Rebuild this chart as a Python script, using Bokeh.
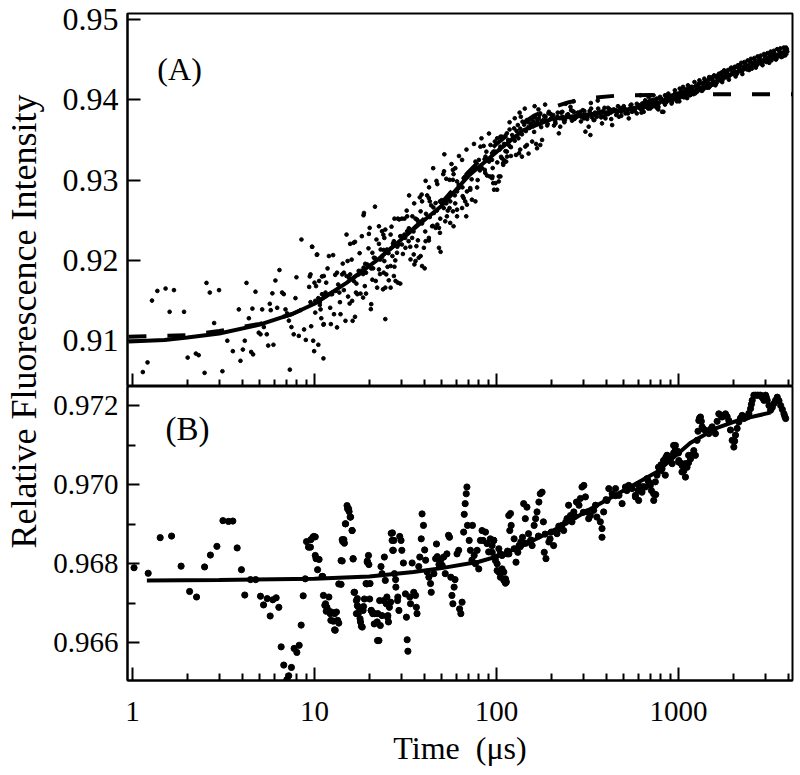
import math
from bokeh.plotting import figure
from bokeh.layouts import row, column
from bokeh.models import FixedTicker, Range1d, Label, CustomJSTickFormatter, PrintfTickFormatter
from bokeh.embed import file_html
from bokeh.resources import INLINE

FONT = "Liberation Serif"

# ---------------- axes / ticks ----------------
X_RANGE = (0.939, 4230)
X_MAJOR = [1, 10, 100, 1000]
X_MINOR = [2, 3, 4, 5, 6, 7, 8, 9, 20, 30, 40, 50, 60, 70, 80, 90,
           200, 300, 400, 500, 600, 700, 800, 900, 2000, 3000, 4000]
A_Y_RANGE = (0.9043, 0.95074)
A_Y_TICKS = [0.91, 0.92, 0.93, 0.94, 0.95]
B_Y_RANGE = (0.96505, 0.97248)
B_Y_TICKS = [0.966, 0.968, 0.970, 0.972]
B_Y_MINOR = [0.965, 0.967, 0.969, 0.971]

# ---------------- panel A data (time us, intensity) ----------------
A_EARLY = [(1.14, 0.9061), (1.21, 0.9073), (1.28, 0.9150), (1.37, 0.9162), (1.52, 0.9165), (1.60, 0.9136),
           (1.69, 0.9163), (1.92, 0.9136), (2.01, 0.9079), (2.23, 0.9084), (2.31, 0.9082), (2.49, 0.9060),
           (2.55, 0.9172), (2.66, 0.9160), (2.81, 0.9122), (2.99, 0.9163), (3.12, 0.9062), (3.32, 0.9100),
           (3.56, 0.9087), (3.84, 0.9139), (3.92, 0.9075), (4.04, 0.9089), (4.14, 0.9100), (4.23, 0.9172),
           (4.36, 0.9128), (4.49, 0.9086), (4.56, 0.9140), (4.60, 0.9083), (4.74, 0.9161), (4.94, 0.9110),
           (5.05, 0.9108), (5.16, 0.9139), (5.27, 0.9117), (5.47, 0.9108), (5.57, 0.9094), (5.68, 0.9146),
           (5.75, 0.9138), (5.87, 0.9159), (5.95, 0.9095), (6.10, 0.9175), (6.24, 0.9141), (6.42, 0.9188),
           (6.64, 0.9160), (6.78, 0.9158), (6.93, 0.9139), (7.08, 0.9134), (7.23, 0.9125), (7.32, 0.9064),
           (7.47, 0.9117), (7.69, 0.9108), (7.86, 0.9153), (7.96, 0.9179), (8.20, 0.9106), (8.38, 0.9138),
           (8.48, 0.9226), (8.77, 0.9114), (8.96, 0.9101), (9.35, 0.9167), (9.42, 0.9180), (9.51, 0.9148),
           (9.59, 0.9118), (9.71, 0.9217), (9.84, 0.9100), (9.96, 0.9087), (10.1, 0.9135), (10.3, 0.9207),
           (10.5, 0.9095), (10.7, 0.9148), (10.8, 0.9139), (11.0, 0.9180), (11.2, 0.9120), (11.2, 0.9078),
           (11.3, 0.9156)]

A_MID = [(9.7, 0.92169), (10.35, 0.92074), (12.0, 0.92054), (12.66, 0.92066), (9.51, 0.91826), (10.0, 0.91723),
         (10.6, 0.91744), (11.25, 0.91806), (11.6, 0.91723), (11.0, 0.91579), (11.5, 0.9157), (10.1, 0.91496),
         (10.7, 0.91446), (12.35, 0.91579), (13.1, 0.9162), (13.7, 0.916), (13.3, 0.91847), (14.2, 0.91826),
         (14.5, 0.91847), (15.0, 0.91806), (15.7, 0.91826), (15.2, 0.91992), (15.0, 0.92322), (15.7, 0.92206),
         (16.4, 0.92219), (16.7, 0.92231), (18.2, 0.92301), (18.7, 0.9259), (18.6, 0.92562), (20.1, 0.92405),
         (19.9, 0.9233), (21.5, 0.92669), (20.8, 0.92095), (21.2, 0.92033), (19.0, 0.91958), (19.2, 0.91847),
         (17.5, 0.91826), (17.0, 0.91711), (17.2, 0.91579), (17.9, 0.91587), (18.5, 0.91537), (16.1, 0.91496),
         (15.6, 0.91463), (16.2, 0.91248), (16.7, 0.91298), (14.8, 0.91248), (13.9, 0.9133), (12.8, 0.9133),
         (12.3, 0.91207), (11.25, 0.91207), (13.3, 0.91166), (24.5, 0.91269), (20.5, 0.91455), (20.4, 0.91393),
         (19.2, 0.91587), (22.1, 0.91661), (23.8, 0.9164), (24.5, 0.91661), (26.2, 0.91661), (25.6, 0.91752),
         (24.8, 0.91826), (27.3, 0.91806), (27.9, 0.91744), (28.7, 0.91723), (29.6, 0.91711), (27.5, 0.91921),
         (26.2, 0.9193), (24.2, 0.91992), (23.5, 0.92041), (22.6, 0.92425), (23.5, 0.92363), (24.5, 0.92384),
         (26.2, 0.92322), (24.2, 0.9228), (22.6, 0.92206), (23.1, 0.92136), (25.0, 0.92136), (27.3, 0.92239),
         (29.0, 0.92198), (29.6, 0.92301), (31.2, 0.92322), (32.3, 0.92363), (27.5, 0.9252), (28.7, 0.9252),
         (30.2, 0.9252), (31.2, 0.9252), (32.3, 0.92549), (33.1, 0.92809), (34.5, 0.92549), (35.9, 0.9252),
         (36.6, 0.92508), (38.3, 0.92611), (37.9, 0.92785), (39.0, 0.92735), (40.8, 0.92991), (41.6, 0.92809),
         (42.5, 0.92776), (43.0, 0.92735), (43.8, 0.92685), (44.9, 0.93148), (45.3, 0.9259), (46.3, 0.92405),
         (47.3, 0.92446), (48.3, 0.92405), (48.9, 0.92343), (48.3, 0.92157), (49.3, 0.92107), (42.5, 0.92248),
         (40.8, 0.92239), (39.9, 0.92157), (36.3, 0.92177), (35.1, 0.92074), (33.7, 0.92012), (35.9, 0.91992),
         (35.4, 0.9195), (37.4, 0.92033), (39.0, 0.9193), (40.3, 0.91901), (38.3, 0.92054), (47.3, 0.9295),
         (51.0, 0.93074), (51.7, 0.93321), (53.0, 0.93016), (55.2, 0.93003), (57.6, 0.93003), (58.1, 0.93074),
         (57.6, 0.93127), (59.4, 0.93148), (60.7, 0.92983), (62.0, 0.92901), (60.7, 0.92859), (64.7, 0.93251),
         (66.0, 0.93024), (67.3, 0.93045), (68.8, 0.92859), (71.8, 0.9288), (73.3, 0.92756), (76.6, 0.92735),
         (78.3, 0.92908), (76.6, 0.9323), (80.0, 0.93251), (81.6, 0.93416), (85.0, 0.93425), (88.0, 0.93354),
         (87.0, 0.93293), (83.3, 0.93148), (86.2, 0.93127), (88.7, 0.93057), (91.8, 0.93045), (94.6, 0.93024),
         (98.7, 0.92962), (100.8, 0.9288), (102.9, 0.92983), (105.1, 0.93045), (94.6, 0.93334), (98.7, 0.93354),
         (100.8, 0.9352), (105.1, 0.9354), (112.0, 0.93553), (114.4, 0.93293), (109.7, 0.93251), (108.8, 0.9321),
         (116.8, 0.93437), (55.7, 0.92735), (55.2, 0.92652), (57.6, 0.92611), (60.7, 0.92632), (52.3, 0.92487),
         (53.4, 0.92549), (55.7, 0.92467), (58.1, 0.92425), (60.7, 0.92549), (64.7, 0.92652), (66.0, 0.92776),
         (67.3, 0.92735), (68.8, 0.92694), (68.2, 0.92549), (51.3, 0.92652), (48.9, 0.92735), (46.3, 0.92714),
         (44.3, 0.92425), (42.5, 0.9228), (34.4, 0.9228), (32.9, 0.92239), (31.6, 0.92157), (30.2, 0.92198),
         (28.4, 0.92095), (26.8, 0.92054), (24.0, 0.91847), (21.7, 0.91744), (21.0, 0.91901), (22.6, 0.91888),
         (18.6, 0.91909), (17.9, 0.91868)]

A_MID_NEAR_FIT = [(10.5, 0.9153), (11.5, 0.9160), (12.5, 0.9158), (13.5, 0.9170), (14.5, 0.9163), (15.5, 0.9178),
                  (16.5, 0.9174), (17.5, 0.9187), (18.5, 0.9183), (19.5, 0.9195), (20.5, 0.9190), (21.5, 0.9203),
                  (23, 0.9201), (24, 0.9213), (25.5, 0.9209), (27, 0.9221), (28.5, 0.9217), (30, 0.9230),
                  (31.5, 0.9228), (33, 0.9240), (35, 0.9236), (37, 0.9249), (39, 0.9246), (41, 0.9258),
                  (43, 0.9254), (45, 0.9266), (47, 0.9262), (50, 0.9275), (53, 0.9271), (56, 0.9284),
                  (59, 0.9281), (62, 0.9294), (65, 0.9291), (69, 0.9304), (73, 0.9301), (77, 0.9315),
                  (81, 0.9312), (86, 0.9326), (91, 0.9323), (96, 0.9335)]

A_MID_CLOUD = [(10.2, 0.9168), (10.9, 0.9128), (11.8, 0.9190), (12.2, 0.9141), (13.0, 0.9182), (13.8, 0.9148),
               (14.3, 0.9196), (15.3, 0.9155), (16.0, 0.9201), (16.9, 0.9160), (17.7, 0.9209), (18.9, 0.9168),
               (19.8, 0.9215), (20.8, 0.9176), (21.9, 0.9226), (22.9, 0.9183), (23.9, 0.9232), (25.2, 0.9192),
               (26.5, 0.9242), (27.8, 0.9200), (29.2, 0.9251), (30.6, 0.9208), (32.1, 0.9262), (33.6, 0.9217),
               (35.3, 0.9271), (37.0, 0.9225), (38.8, 0.9282), (40.6, 0.9236), (42.6, 0.9291), (44.7, 0.9243),
               (46.8, 0.9299), (49.1, 0.9252), (51.5, 0.9311), (54.0, 0.9262), (56.6, 0.9320), (59.3, 0.9271),
               (62.2, 0.9330), (65.2, 0.9280), (68.4, 0.9338), (71.7, 0.9290), (75.2, 0.9345), (78.8, 0.9300),
               (82.7, 0.9352), (86.7, 0.9309), (90.9, 0.9358), (95.3, 0.9315)]

A_LATE = [(97, 0.9288), (96, 0.92962), (103, 0.93045), (95, 0.93045), (109, 0.9319), (113, 0.9323),
          (107, 0.93272), (114, 0.93355), (94.5, 0.93252), (96.5, 0.93355), (92.7, 0.93437), (98, 0.9348),
          (105, 0.93417), (119, 0.93417), (128, 0.93313), (133, 0.93334), (138, 0.93292), (144, 0.93417),
          (147, 0.93437), (157, 0.9348), (174, 0.93437), (167, 0.93396), (107, 0.9354), (114, 0.93582),
          (125, 0.93644), (131, 0.93685), (139, 0.93727), (136, 0.93789), (147, 0.93747), (154, 0.93706),
          (160, 0.93727), (171, 0.93768), (181, 0.93747), (174, 0.9383), (186, 0.93789), (194, 0.9385),
          (202, 0.93789), (211, 0.93706), (220, 0.93582), (224, 0.93665), (234, 0.93747), (244, 0.93809),
          (255, 0.93912), (266, 0.9385), (277, 0.93789), (289, 0.9385), (302, 0.93768), (308, 0.93603),
          (321, 0.93665), (328, 0.93561), (342, 0.93747), (356, 0.93789), (372, 0.9385), (380, 0.93706),
          (397, 0.93768), (414, 0.9383), (432, 0.93685), (451, 0.93871), (471, 0.93789), (490, 0.93892),
          (511, 0.9383), (533, 0.93768), (556, 0.9385), (580, 0.93892), (604, 0.93933), (630, 0.93871),
          (657, 0.93933), (686, 0.93974), (715, 0.93912), (746, 0.93995), (778, 0.93954), (812, 0.9385),
          (846, 0.93995), (883, 0.94036), (921, 0.93974), (960, 0.94057), (1002, 0.94016), (1045, 0.94078),
          (1089, 0.94098), (1136, 0.9414), (118, 0.9363), (123, 0.9352), (150, 0.9366), (165, 0.9370),
          (190, 0.9368), (230, 0.9379), (260, 0.9374), (285, 0.9380), (315, 0.9376), (350, 0.9381),
          (390, 0.9379), (420, 0.9388), (460, 0.9384), (540, 0.9388), (590, 0.9383), (640, 0.9390),
          (700, 0.9394), (760, 0.9390), (830, 0.9397), (900, 0.9400), (980, 0.9398)]

A_LATE_BAND = [(101, 0.9322), (104, 0.9338), (106, 0.9329), (110, 0.9345), (112, 0.9336), (116, 0.9350),
               (120, 0.9341), (122, 0.9356), (126, 0.9349), (129, 0.9361), (132, 0.9352), (135, 0.9364),
               (138, 0.9357), (142, 0.9369), (145, 0.9361), (149, 0.9372), (152, 0.9365), (156, 0.9376),
               (159, 0.9367), (163, 0.9378), (168, 0.9371), (172, 0.9381), (177, 0.9373), (183, 0.9380),
               (188, 0.9374), (193, 0.9383), (198, 0.9376), (205, 0.9381), (210, 0.9373), (217, 0.9384),
               (223, 0.9377), (230, 0.9385), (238, 0.9375), (247, 0.9382), (253, 0.9378), (262, 0.9386),
               (270, 0.9377), (280, 0.9384), (292, 0.9379), (298, 0.9387), (310, 0.9381), (325, 0.9386),
               (335, 0.9378), (348, 0.9384), (362, 0.9389), (375, 0.9380), (385, 0.9386), (402, 0.9382),
               (410, 0.9390), (425, 0.9384), (440, 0.9388), (455, 0.9381), (475, 0.9390), (485, 0.9385),
               (500, 0.9392), (520, 0.9386), (545, 0.9393), (565, 0.9388), (590, 0.9395), (615, 0.9389),
               (645, 0.9396), (665, 0.9391), (690, 0.9398), (720, 0.9393), (735, 0.9400), (770, 0.9396),
               (790, 0.9402), (820, 0.9398), (855, 0.9403), (870, 0.9399), (910, 0.9405), (945, 0.9401),
               (970, 0.9407), (990, 0.9402), (118, 0.9372), (126, 0.9377), (134, 0.9384), (143, 0.9389),
               (162, 0.9392), (170, 0.9388), (185, 0.9394), (240, 0.9395), (265, 0.9398), (330, 0.9396),
               (360, 0.9399), (120, 0.9330), (135, 0.9338), (150, 0.9333), (165, 0.9345), (178, 0.9350)]

A_LATE_BAND2 = [(155, 0.9369), (161, 0.9360), (168, 0.9375), (176, 0.9366), (184, 0.9379), (191, 0.9370),
                (199, 0.9382), (207, 0.9368), (216, 0.9379), (226, 0.9384), (236, 0.9372), (246, 0.9380),
                (257, 0.9387), (268, 0.9376), (279, 0.9383), (291, 0.9373), (304, 0.9386), (317, 0.9379),
                (331, 0.9389), (345, 0.9375), (360, 0.9384), (376, 0.9378), (392, 0.9390), (409, 0.9382),
                (427, 0.9376), (446, 0.9387), (465, 0.9392), (485, 0.9380), (506, 0.9389), (528, 0.9383),
                (551, 0.9394), (575, 0.9386), (600, 0.9391), (626, 0.9384), (653, 0.9397), (682, 0.9389),
                (711, 0.9400), (742, 0.9392), (774, 0.9388), (808, 0.9401), (843, 0.9394), (880, 0.9405),
                (918, 0.9397), (958, 0.9408), (1000, 0.9399), (1043, 0.9411), (1089, 0.9404), (1136, 0.9409)]

A_END = [(618, 0.94056), (631, 0.93953), (644, 0.9385), (657, 0.93994), (671, 0.93912), (685, 0.94036),
         (700, 0.93891), (714, 0.93974), (729, 0.94056), (744, 0.93953), (760, 0.94015), (776, 0.93912),
         (792, 0.94036), (809, 0.93994), (826, 0.9385), (843, 0.94056), (861, 0.93974), (879, 0.94077),
         (897, 0.94015), (916, 0.93953), (935, 0.94056), (955, 0.94118), (975, 0.94015), (995, 0.94077),
         (1016, 0.94139), (1037, 0.94036), (1059, 0.9416), (1081, 0.94077), (1104, 0.94118), (1127, 0.9418),
         (1150, 0.94056), (1174, 0.9416), (1199, 0.94118), (1224, 0.94221), (1250, 0.94118), (1276, 0.9418),
         (1303, 0.94242), (1330, 0.94139), (1358, 0.94201), (1386, 0.94263), (1415, 0.9416), (1445, 0.94221),
         (1475, 0.94283), (1506, 0.9418), (1538, 0.94242), (1570, 0.94304), (1603, 0.94221), (1636, 0.94271),
         (1671, 0.94325), (1706, 0.94242), (1741, 0.94304), (1778, 0.94366), (1815, 0.94283), (1853, 0.94345),
         (1892, 0.94304), (1931, 0.94387), (1972, 0.94325), (2013, 0.94366), (2055, 0.94407), (2098, 0.94325),
         (2142, 0.94387), (2187, 0.94428), (2233, 0.94354), (2280, 0.94407), (2327, 0.94449), (2376, 0.94378),
         (2426, 0.94428), (2476, 0.94469), (2528, 0.94387), (2581, 0.94449), (2635, 0.9449), (2690, 0.94428),
         (2747, 0.94469), (2804, 0.94511), (2863, 0.94449), (2923, 0.9449), (2984, 0.94531), (3046, 0.94469),
         (3110, 0.94511), (3175, 0.94552), (3242, 0.9449), (3310, 0.94531), (3379, 0.94573), (3450, 0.94511),
         (3522, 0.94552), (3596, 0.94593), (3671, 0.94531), (3748, 0.94573), (3826, 0.94614), (3860, 0.94552)]

A_END_BAND = [(1010, 0.9398), (1030, 0.9410), (1070, 0.9403), (1095, 0.9413), (1115, 0.9402), (1140, 0.9412),
              (1165, 0.9406), (1190, 0.9416), (1210, 0.9407), (1240, 0.9417), (1265, 0.9410), (1290, 0.9420),
              (1315, 0.9412), (1345, 0.9421), (1370, 0.9413), (1400, 0.9424), (1430, 0.9415), (1460, 0.9425),
              (1490, 0.9417), (1520, 0.9428), (1555, 0.9419), (1585, 0.9429), (1620, 0.9421), (1655, 0.9431),
              (1690, 0.9424), (1725, 0.9434), (1760, 0.9426), (1795, 0.9436), (1835, 0.9428), (1870, 0.9437),
              (1910, 0.9430), (1950, 0.9440), (1990, 0.9432), (2035, 0.9441), (2075, 0.9434), (2120, 0.9443),
              (2165, 0.9436), (2210, 0.9446), (2255, 0.9438), (2300, 0.9447), (2350, 0.9440), (2400, 0.9449),
              (2450, 0.9441), (2500, 0.9451), (2555, 0.9443), (2610, 0.9452), (2660, 0.9445), (2720, 0.9454),
              (2775, 0.9446), (2830, 0.9455), (2890, 0.9448), (2950, 0.9457), (3015, 0.9450), (3080, 0.9458),
              (3140, 0.9451), (3210, 0.9460), (3275, 0.9453), (3345, 0.9461), (3415, 0.9455), (3485, 0.9463),
              (3560, 0.9456), (3630, 0.9464), (3710, 0.9458), (3790, 0.9465), (3900, 0.9460), (3940, 0.9463)]

A_END_BAND2 = [(1185, 0.9414), (1237, 0.9408), (1290, 0.9419), (1346, 0.9411), (1405, 0.9422), (1466, 0.9415),
               (1530, 0.9426), (1596, 0.9418), (1665, 0.9429), (1738, 0.9422), (1813, 0.9433), (1892, 0.9425),
               (1974, 0.9436), (2060, 0.9429), (2150, 0.9440), (2243, 0.9432), (2340, 0.9443), (2442, 0.9437),
               (2548, 0.9446), (2659, 0.9440), (2774, 0.9450), (2895, 0.9443), (3020, 0.9453), (3152, 0.9446),
               (3289, 0.9457), (3431, 0.9450), (3580, 0.9461), (3736, 0.9454), (3898, 0.9465), (3960, 0.9460)]

# fits in panel A
A_FIT_T = [0.95, 1.5, 2, 3, 5, 7.5, 10, 15, 22, 30, 40, 50, 70, 100, 140, 200, 300, 500, 760, 1100, 1500, 2000, 3000, 4000]
A_FIT_V = [0.9099, 0.9101, 0.9104, 0.9109, 0.9120, 0.9133, 0.9146, 0.9172, 0.9200, 0.9226, 0.9250, 0.9268,
           0.9305, 0.9335, 0.9362, 0.9376, 0.9381, 0.9387, 0.9396, 0.9407, 0.9420, 0.9433, 0.9448, 0.9458]
A_FIT2_T = [0.95, 2, 3, 5, 7.5, 10, 15, 22, 30, 50, 70, 100, 130, 160, 200, 250, 320, 450, 700, 1200, 4230]
A_FIT2_V = [0.9105, 0.9107, 0.9112, 0.9121, 0.9133, 0.9146, 0.9172, 0.9200, 0.9226, 0.9272, 0.9310, 0.9345,
            0.9366, 0.9380, 0.9390, 0.9397, 0.9402, 0.9405, 0.9406, 0.9407, 0.9407]

# ---------------- panel B data ----------------
B_EARLY = [(1.02, 0.96790), (1.22, 0.96776), (1.42, 0.96866), (1.64, 0.96870), (1.85, 0.96794), (2.06, 0.96730),
           (2.25, 0.96716), (2.49, 0.96792), (2.68, 0.96822), (2.91, 0.96844), (3.14, 0.96909), (3.37, 0.96907),
           (3.56, 0.96908), (3.76, 0.96840), (3.97, 0.96785), (4.14, 0.96721), (4.45, 0.96760), (4.75, 0.96760),
           (5.05, 0.96718), (5.25, 0.96696), (5.50, 0.96712), (5.71, 0.96668), (5.90, 0.96709), (6.16, 0.96714),
           (6.37, 0.96690), (6.56, 0.96590), (6.78, 0.96544), (7.05, 0.96507), (7.22, 0.96517), (7.47, 0.96538),
           (7.73, 0.96586), (8.00, 0.96576), (8.24, 0.96594), (8.45, 0.96645), (8.67, 0.96719), (9.04, 0.96856),
           (9.27, 0.96842), (9.55, 0.96861), (9.91, 0.96869), (8.9, 0.96762), (10.2, 0.96813), (10.6, 0.96811)]

B_MID1 = [(10.1, 0.96821), (10.4, 0.96785), (11.0, 0.96768), (11.2, 0.96720), (11.5, 0.96699), (11.7, 0.96690),
          (11.9, 0.96682), (12.2, 0.96674), (12.3, 0.96657), (12.7, 0.96655), (12.9, 0.96633), (13.2, 0.96678),
          (13.6, 0.96749), (14.0, 0.96808), (14.2, 0.96861), (14.3, 0.96856), (14.8, 0.96901), (15.2, 0.96939),
          (15.5, 0.96932), (15.8, 0.96918), (16.1, 0.96884), (16.3, 0.96812), (16.6, 0.96728), (17.0, 0.96707),
          (17.2, 0.96694), (17.4, 0.96674), (17.8, 0.96661), (18.1, 0.96642), (18.5, 0.96682), (18.8, 0.96711),
          (19.4, 0.96749), (19.5, 0.96804), (19.8, 0.96821), (20.1, 0.96711), (20.5, 0.96682), (20.9, 0.96674),
          (21.3, 0.96648), (22.2, 0.96606), (22.3, 0.96674), (22.8, 0.96707), (23.2, 0.96793), (23.5, 0.96775),
          (24.2, 0.96817), (24.5, 0.96758), (25.0, 0.96716), (25.3, 0.96669), (25.8, 0.96690), (26.4, 0.96877),
          (26.7, 0.96859), (26.9, 0.96834), (27.5, 0.96775), (28.0, 0.96741), (28.6, 0.96707)]

B_MID2 = [(9.8, 0.96867), (10.1, 0.96868), (9.5, 0.96842), (11.1, 0.96768), (11.4, 0.96695), (11.6, 0.96680),
          (12.0, 0.96716), (12.4, 0.96678), (12.9, 0.96674), (13.0, 0.96632), (13.4, 0.96657), (13.6, 0.96650),
          (14.0, 0.96748), (14.2, 0.96807), (14.5, 0.96861), (14.6, 0.96852), (14.8, 0.96901), (15.1, 0.96947),
          (15.4, 0.96939), (15.7, 0.96918), (16.1, 0.96884), (16.3, 0.96813), (16.5, 0.96728), (17.2, 0.96712),
          (17.5, 0.96690), (17.0, 0.96674), (17.9, 0.96653), (18.3, 0.96640), (18.6, 0.96692), (19.2, 0.96750),
          (19.5, 0.96807), (19.9, 0.96798), (20.2, 0.96750), (20.5, 0.96682), (21.0, 0.96675), (21.4, 0.96674),
          (22.1, 0.96653), (22.6, 0.96606), (23.0, 0.96644), (23.5, 0.96669), (24.0, 0.96707), (24.8, 0.96699),
          (25.2, 0.96665), (25.5, 0.96653), (26.2, 0.96703), (26.8, 0.96878), (27.3, 0.96859), (27.1, 0.96834),
          (27.9, 0.96760), (28.7, 0.96716), (29.1, 0.96682), (29.4, 0.96869), (29.9, 0.96859), (30.2, 0.96834),
          (30.8, 0.96802), (31.6, 0.96724), (32.0, 0.96665), (32.3, 0.96608), (32.6, 0.96579), (33.4, 0.96716),
          (33.7, 0.96699), (34.4, 0.96802), (35.1, 0.96728), (35.9, 0.96720), (36.3, 0.96690), (36.6, 0.96674),
          (37.4, 0.96793), (37.9, 0.96817), (38.6, 0.96863), (39.0, 0.96926), (39.7, 0.96897), (40.3, 0.96835),
          (40.8, 0.96809), (41.6, 0.96779), (42.5, 0.96766), (43.4, 0.96750), (43.8, 0.96728), (45.3, 0.96775),
          (46.3, 0.96813), (46.8, 0.96850), (47.3, 0.96818), (48.3, 0.96798), (49.3, 0.96809), (50.3, 0.96796),
          (51.3, 0.96817), (52.3, 0.96775), (53.4, 0.96825), (54.5, 0.96872), (55.2, 0.96867), (56.1, 0.96766),
          (56.9, 0.96720), (57.6, 0.96699), (58.5, 0.96741), (59.2, 0.96760), (60.7, 0.96825), (62.0, 0.96834),
          (62.7, 0.96686), (63.7, 0.96674), (64.7, 0.96703), (66.0, 0.96880), (66.5, 0.96925), (67.3, 0.96952),
          (68.2, 0.96977), (68.8, 0.96994), (69.3, 0.96897), (70.8, 0.96859), (71.9, 0.96834), (73.3, 0.96809),
          (73.8, 0.96897), (75.4, 0.96821), (76.6, 0.96800), (78.3, 0.96834), (79.9, 0.96787), (81.6, 0.96859),
          (83.3, 0.96884), (84.4, 0.96859), (87.0, 0.96880), (88.7, 0.96851), (90.6, 0.96830), (92.5, 0.96863),
          (94.6, 0.96846), (96.6, 0.96859), (98.7, 0.96817), (100.8, 0.96800), (102.9, 0.96779), (105.1, 0.96766),
          (107.3, 0.96787), (109.7, 0.96758), (112.0, 0.96751), (114.4, 0.96825), (116.8, 0.96922), (118.3, 0.96884)]

B_LATE = [(96.6, 0.96859), (94.7, 0.96829), (98.7, 0.96808), (103, 0.96838), (100.8, 0.96783), (107.3, 0.96821),
          (109.7, 0.96779), (112, 0.96762), (113.3, 0.96754), (117, 0.96825), (119.4, 0.96927), (120.4, 0.96897),
          (125, 0.96863), (128, 0.96804), (131, 0.96829), (133, 0.96846), (136, 0.96855), (139, 0.96867),
          (141, 0.96952), (144, 0.96914), (147, 0.96943), (150, 0.96876), (154, 0.96859), (157, 0.96846),
          (161, 0.96897), (164, 0.96914), (167, 0.96931), (171, 0.96956), (174, 0.96977), (178, 0.96981),
          (181, 0.96906), (183, 0.96829), (187, 0.96813), (194, 0.96855), (197, 0.96863), (206, 0.96846),
          (215, 0.96876), (224, 0.96889), (229, 0.96897), (234, 0.96884), (244, 0.96914), (249, 0.96948),
          (255, 0.96922), (260, 0.96906), (266, 0.96931), (275, 0.96956), (284, 0.96948), (289, 0.96965),
          (295, 0.96994), (302, 0.96998), (308, 0.96969), (315, 0.96931), (321, 0.96914), (328, 0.96922),
          (342, 0.96935), (356, 0.96918), (372, 0.96906), (380, 0.96889), (380, 0.96867), (388, 0.96931),
          (405, 0.96960), (414, 0.96990), (432, 0.96977), (451, 0.96990), (471, 0.96973), (490, 0.96952),
          (511, 0.96994), (533, 0.96998), (556, 0.96990), (580, 0.96969), (604, 0.96960), (630, 0.96981),
          (657, 0.96994), (671, 0.97015), (700, 0.96998), (730, 0.96977), (746, 0.97007), (762, 0.97024),
          (778, 0.97044), (812, 0.97040), (829, 0.97061), (846, 0.97024), (864, 0.97074), (902, 0.97070),
          (940, 0.97099), (960, 0.97087), (1002, 0.97057), (1045, 0.97032), (1089, 0.97053), (1136, 0.97074),
          (105, 0.96825), (115, 0.96832), (125, 0.96838), (135, 0.96843), (145, 0.96852), (155, 0.96860),
          (170, 0.96870), (185, 0.96875), (200, 0.96880), (220, 0.96895), (240, 0.96905), (270, 0.96920),
          (300, 0.96930), (350, 0.96948), (400, 0.96962), (450, 0.96972), (520, 0.96985), (600, 0.97000),
          (680, 0.97010), (800, 0.97035), (900, 0.97060), (1000, 0.97080)]

B_END = [(580, 0.96973), (731, 0.96960), (779, 0.97044), (830, 0.97061), (866, 0.97074), (923, 0.97053),
         (962, 0.97099), (1004, 0.97061), (1047, 0.97048), (1092, 0.97019), (1114, 0.97044), (1164, 0.97065),
         (1213, 0.97086), (1239, 0.97074), (1265, 0.97112), (1293, 0.97162), (1320, 0.97171), (1348, 0.97146),
         (1406, 0.97137), (1467, 0.97129), (1530, 0.97146), (1596, 0.97129), (1665, 0.97179), (1737, 0.97171),
         (1812, 0.97179), (1890, 0.97162), (1972, 0.97112), (2014, 0.97095), (2057, 0.97125), (2145, 0.97158),
         (2238, 0.97175), (2286, 0.97167), (2385, 0.97171), (2488, 0.97192), (2541, 0.97213), (2595, 0.97226),
         (2707, 0.97226), (2824, 0.97226), (2946, 0.97213), (3009, 0.97226), (3073, 0.97213), (3206, 0.97188),
         (3345, 0.97205), (3489, 0.97221), (3640, 0.97200), (3797, 0.97179), (3879, 0.97167),
         (600, 0.96985), (640, 0.96995), (690, 0.97005), (710, 0.96985), (750, 0.96975), (800, 0.97050),
         (850, 0.97068), (890, 0.97060), (940, 0.97080), (985, 0.97085), (1025, 0.97055), (1070, 0.97035),
         (1135, 0.97055), (1190, 0.97075), (1280, 0.97135), (1305, 0.97168), (1335, 0.97160), (1375, 0.97140),
         (1435, 0.97133), (1500, 0.97140), (1560, 0.97138), (1630, 0.97160), (1700, 0.97176), (1775, 0.97175),
         (1850, 0.97172), (1930, 0.97138), (2035, 0.97110), (2100, 0.97142), (2190, 0.97168), (2335, 0.97170),
         (2435, 0.97180), (2515, 0.97203), (2650, 0.97226), (2765, 0.97226), (2885, 0.97220), (3040, 0.97220),
         (3140, 0.97200), (3275, 0.97195), (3415, 0.97213), (3565, 0.97212), (3720, 0.97190), (3840, 0.97172)]

B_FIT_T = [1.2, 3, 10, 20, 35, 50, 80, 100, 140, 215, 330, 500, 760, 1160, 1600, 2200, 3200]
B_FIT_V = [0.96758, 0.96759, 0.96762, 0.96768, 0.96779, 0.96789, 0.96805, 0.96818, 0.96846, 0.96889,
           0.96939, 0.96985, 0.97032, 0.97105, 0.97142, 0.97165, 0.97182]


def split(pairs):
    return [p[0] for p in pairs], [p[1] for p in pairs]


def style_common(p):
    p.grid.visible = False
    p.outline_line_color = "black"
    p.outline_line_width = 2
    p.background_fill_color = "white"
    p.border_fill_color = "white"
    for ax in p.axis:
        ax.axis_line_width = 2
        ax.major_tick_line_width = 2
        ax.minor_tick_line_width = 2
        ax.major_tick_out = 0
        ax.minor_tick_out = 0
        ax.major_label_text_font = FONT
        ax.major_label_text_color = "black"
        ax.axis_label_text_font = FONT
        ax.axis_label_text_color = "black"
        ax.axis_label_text_font_style = "normal"


LABEL_W = 45
LEFT = 82
FW = 665
TOP = 13
FH_A = 373
FH_B = 294
BOTTOM = 89

# ---------------- panel A ----------------
pa = figure(x_axis_type="log", x_range=Range1d(*X_RANGE), y_range=Range1d(*A_Y_RANGE),
            frame_width=FW, frame_height=FH_A, min_border_left=LEFT, min_border_right=3,
            min_border_top=TOP, min_border_bottom=0, output_backend="svg", toolbar_location=None)
style_common(pa)
pa.xaxis.ticker = FixedTicker(ticks=X_MAJOR, minor_ticks=X_MINOR)
pa.xaxis.major_tick_in = 13
pa.xaxis.minor_tick_in = 7
pa.xaxis.formatter = CustomJSTickFormatter(code="return '';")
pa.xaxis.major_label_text_font_size = "1px"
pa.xaxis.major_label_standoff = 0
pa.yaxis.ticker = FixedTicker(ticks=A_Y_TICKS, minor_ticks=[])
pa.yaxis.formatter = PrintfTickFormatter(format="%.2f")
pa.yaxis.major_tick_in = 13
pa.yaxis.minor_tick_in = 0
pa.yaxis.major_label_text_font_size = "32px"
pa.yaxis.major_label_standoff = 9

for grp in (A_EARLY, A_MID, A_MID_NEAR_FIT, A_MID_CLOUD, A_LATE, A_LATE_BAND, A_LATE_BAND2,
            A_END, A_END_BAND, A_END_BAND2):
    xs, ys = split(grp)
    pa.scatter(xs, ys, size=3.7, color="black")
pa.line(A_FIT2_T, A_FIT2_V, line_width=4, color="black", line_dash="18 21")
pa.line(A_FIT_T, A_FIT_V, line_width=4, color="black")
pa.add_layout(Label(x=1.37, y=0.9438, text="(A)", text_font=FONT, text_font_size="32px",
                    text_align="left", text_baseline="middle", text_color="black"))

# ---------------- panel B ----------------
pb = figure(x_axis_type="log", x_range=pa.x_range, y_range=Range1d(*B_Y_RANGE),
            frame_width=FW, frame_height=FH_B, min_border_left=LEFT, min_border_right=3,
            min_border_top=0, min_border_bottom=BOTTOM, output_backend="svg", toolbar_location=None)
style_common(pb)
pb.xaxis.ticker = FixedTicker(ticks=X_MAJOR, minor_ticks=X_MINOR)
pb.xaxis.formatter = CustomJSTickFormatter(code="return String(Math.round(tick));")
pb.xaxis.major_tick_in = 13
pb.xaxis.minor_tick_in = 7
pb.xaxis.major_label_text_font_size = "29px"
pb.xaxis.major_label_standoff = 21
pb.xaxis.axis_label = "Time\u00a0 (μs)"
pb.xaxis.axis_label_text_font_size = "32px"
pb.xaxis.axis_label_standoff = 6
pb.yaxis.ticker = FixedTicker(ticks=B_Y_TICKS, minor_ticks=B_Y_MINOR)
pb.yaxis.formatter = PrintfTickFormatter(format="%.3f")
pb.yaxis.major_tick_in = 12
pb.yaxis.minor_tick_in = 8
pb.yaxis.major_label_text_font_size = "29px"
pb.yaxis.major_label_standoff = 9

for grp in (B_EARLY, B_MID1, B_MID2, B_LATE, B_END):
    xs, ys = split(grp)
    pb.scatter(xs, ys, size=6.2, color="black")
pb.line(B_FIT_T, B_FIT_V, line_width=4, color="black")
pb.add_layout(Label(x=1.52, y=0.97141, text="(B)", text_font=FONT, text_font_size="33px",
                    text_align="left", text_baseline="middle", text_color="black"))

# ---------------- shared y label ----------------
TOTAL_H = TOP + FH_A + FH_B + BOTTOM
pl = figure(width=LABEL_W, height=TOTAL_H, x_range=Range1d(0, 1), y_range=Range1d(0, 1),
            min_border_left=0, min_border_right=0, min_border_top=0, min_border_bottom=0,
            output_backend="svg", toolbar_location=None)
pl.axis.visible = False
pl.grid.visible = False
pl.outline_line_color = None
pl.border_fill_color = "white"
pl.background_fill_color = "white"
pl.add_layout(Label(x=23 / LABEL_W, y=1 - 321 / TOTAL_H, text="Relative Fluorescence Intensity",
                    angle=math.pi / 2, text_font=FONT, text_font_size="36px", text_align="center",
                    text_baseline="middle", text_color="black"))

layout = row(pl, column(pa, pb, spacing=0), spacing=0)
open("out.html", "w").write(file_html(layout, INLINE))
